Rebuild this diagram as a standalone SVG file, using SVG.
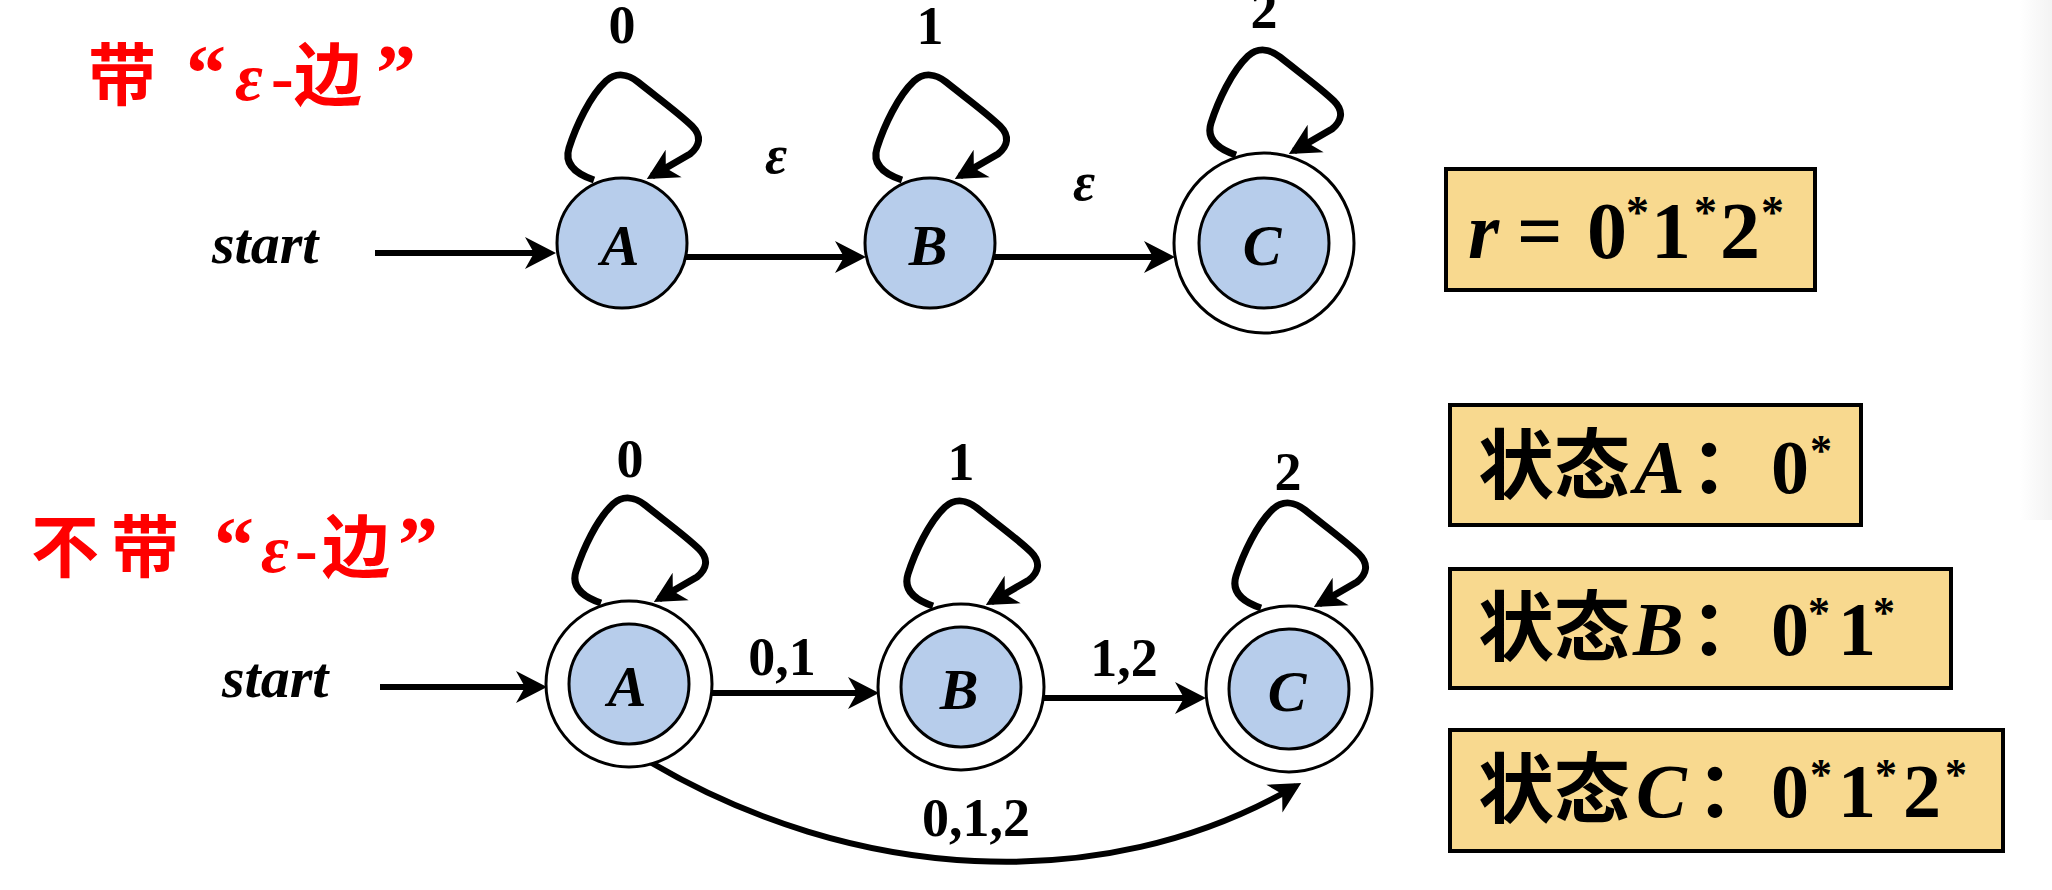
<svg xmlns="http://www.w3.org/2000/svg" width="2052" height="890" viewBox="0 0 2052 890">
<style>
.node{fill:#b7cdeb;stroke:#000;stroke-width:3}
.ring{fill:#fff;stroke:#000;stroke-width:3}
.edge{fill:none;stroke:#000;stroke-width:6;marker-end:url(#ah)}
.loop{fill:none;stroke:#000;stroke-width:7;stroke-linejoin:round;marker-end:url(#ah)}
.t{font-family:"Liberation Serif","Times New Roman",serif;font-weight:bold;fill:#000}
.bi{font-style:italic}
.nl{font-size:58px;text-anchor:middle;font-style:italic}
.el{font-size:54px;text-anchor:middle}
.cjk{font-family:"Noto Sans CJK SC","Noto Sans CJK JP",sans-serif;font-weight:bold}
.title{fill:#ff0000}
.box{fill:#f8d98f;stroke:#000;stroke-width:4}
</style>
<defs>
<marker id="ah" markerUnits="userSpaceOnUse" markerWidth="36" markerHeight="34" viewBox="0 0 36 34" refX="26" refY="17" orient="auto">
<path d="M32 17 L1 1 L10 17 L1 33 Z" fill="#000"/>
</marker>
<path id="lp" d="M-28 2 C-46 -4,-58 -14,-53 -30 C-46 -52,-32 -82,-16 -97 C-6 -106,6 -104,16 -96 C36 -80,58 -64,70 -52 C80 -42,78 -32,68 -24 L30 -2"/>
<linearGradient id="gr" x1="0" y1="0" x2="1" y2="0">
<stop offset="0" stop-color="#fff"/><stop offset="1" stop-color="#f3f3f3"/>
</linearGradient>
</defs>
<rect x="0" y="0" width="2052" height="890" fill="#fff"/>
<rect x="2020" y="0" width="32" height="520" fill="url(#gr)"/>

<!-- titles -->
<g id="title-top" class="title">
<text y="100" font-size="68"><tspan class="cjk" x="88">带</tspan><tspan class="t title" x="186" font-size="80">“</tspan><tspan class="t bi title" x="235">ε</tspan><tspan class="t title" x="271">-</tspan><tspan class="cjk" x="294">边</tspan><tspan class="t title" x="376" font-size="80">”</tspan></text>
</g>
<g id="title-bottom" class="title">
<text y="572" font-size="68"><tspan class="cjk" x="31">不</tspan><tspan class="cjk" x="111">带</tspan><tspan class="t title" x="214" font-size="80">“</tspan><tspan class="t bi title" x="261">ε</tspan><tspan class="t title" x="295">-</tspan><tspan class="cjk" x="322">边</tspan><tspan class="t title" x="398" font-size="80">”</tspan></text>
</g>

<!-- start labels -->
<g id="start-top"><text class="t bi" x="212" y="263" font-size="58">start</text></g>
<g id="start-bottom"><text class="t bi" x="222" y="697" font-size="58">start</text></g>

<!-- connectors -->
<g id="connectors">
<path class="edge" d="M375 253 L550 253"/>
<path class="edge" d="M686 257 L860 257"/>
<path class="edge" d="M994 257 L1169 257"/>
<use href="#lp" class="loop" transform="translate(622,178)"/>
<use href="#lp" class="loop" transform="translate(930,178)"/>
<use href="#lp" class="loop" transform="translate(1264,153)"/>

<path class="edge" d="M380 687 L541 687"/>
<path class="edge" d="M711 693 L873 693"/>
<path class="edge" d="M1044 698 L1200 698"/>
<use href="#lp" class="loop" transform="translate(629,601)"/>
<use href="#lp" class="loop" transform="translate(961,604)"/>
<use href="#lp" class="loop" transform="translate(1289,606)"/>
<path class="edge" d="M650 762 C850 880,1100 900,1296 786"/>
</g>

<!-- edge labels -->
<g id="edge-labels">
<text class="t el" x="622" y="43">0</text>
<text class="t el" x="930" y="44">1</text>
<text class="t el" x="1264" y="28">2</text>
<text class="t el bi" x="776" y="173">ε</text>
<text class="t el bi" x="1084" y="200">ε</text>
<text class="t el" x="630" y="477">0</text>
<text class="t el" x="961" y="480">1</text>
<text class="t el" x="1288" y="490">2</text>
<text class="t el" x="782" y="675">0,1</text>
<text class="t el" x="1124" y="676">1,2</text>
<text class="t el" x="976" y="836">0,1,2</text>
</g>

<!-- top automaton nodes -->
<g id="nodeA1"><circle class="node" cx="622" cy="243" r="65"/><text class="t nl" x="620" y="265">A</text></g>
<g id="nodeB1"><circle class="node" cx="930" cy="243" r="65"/><text class="t nl" x="928" y="265">B</text></g>
<g id="nodeC1"><circle class="ring" cx="1264" cy="243" r="90"/><circle class="node" cx="1264" cy="243" r="65"/><text class="t nl" x="1262" y="265">C</text></g>

<!-- bottom automaton nodes -->
<g id="nodeA2"><circle class="ring" cx="629" cy="684" r="83"/><circle class="node" cx="629" cy="684" r="60"/><text class="t nl" x="627" y="706">A</text></g>
<g id="nodeB2"><circle class="ring" cx="961" cy="687" r="83"/><circle class="node" cx="961" cy="687" r="60"/><text class="t nl" x="959" y="709">B</text></g>
<g id="nodeC2"><circle class="ring" cx="1289" cy="689" r="83"/><circle class="node" cx="1289" cy="689" r="60"/><text class="t nl" x="1287" y="711">C</text></g>

<!-- boxes -->
<g id="box-r">
<rect class="box" x="1446" y="169" width="369" height="121"/>
<text class="t" y="258" font-size="80"><tspan class="bi" x="1468">r</tspan><tspan x="1517">=</tspan><tspan x="1587">0</tspan><tspan x="1626" dy="-30" font-size="46">*</tspan><tspan x="1651" dy="30">1</tspan><tspan x="1694" dy="-30" font-size="46">*</tspan><tspan x="1720" dy="30">2</tspan><tspan x="1761" dy="-30" font-size="46">*</tspan></text>
</g>
<g id="box-A">
<rect class="box" x="1450" y="405" width="411" height="120"/>
<text class="t" y="493" font-size="76"><tspan class="cjk" x="1478">状态</tspan><tspan class="bi" x="1634">A</tspan><tspan class="cjk" x="1690">：</tspan><tspan x="1771">0</tspan><tspan x="1810" dy="-28" font-size="44">*</tspan></text>
</g>
<g id="box-B">
<rect class="box" x="1450" y="569" width="501" height="119"/>
<text class="t" y="655" font-size="76"><tspan class="cjk" x="1478">状态</tspan><tspan class="bi" x="1633">B</tspan><tspan class="cjk" x="1690">：</tspan><tspan x="1771">0</tspan><tspan x="1808" dy="-28" font-size="44">*</tspan><tspan x="1838" dy="28">1</tspan><tspan x="1873" dy="-28" font-size="44">*</tspan></text>
</g>
<g id="box-C">
<rect class="box" x="1450" y="730" width="553" height="121"/>
<text class="t" y="817" font-size="76"><tspan class="cjk" x="1478">状态</tspan><tspan class="bi" x="1636">C</tspan><tspan class="cjk" x="1696">：</tspan><tspan x="1771">0</tspan><tspan x="1810" dy="-28" font-size="44">*</tspan><tspan x="1838" dy="28">1</tspan><tspan x="1875" dy="-28" font-size="44">*</tspan><tspan x="1903" dy="28">2</tspan><tspan x="1945" dy="-28" font-size="44">*</tspan></text>
</g>
</svg>
